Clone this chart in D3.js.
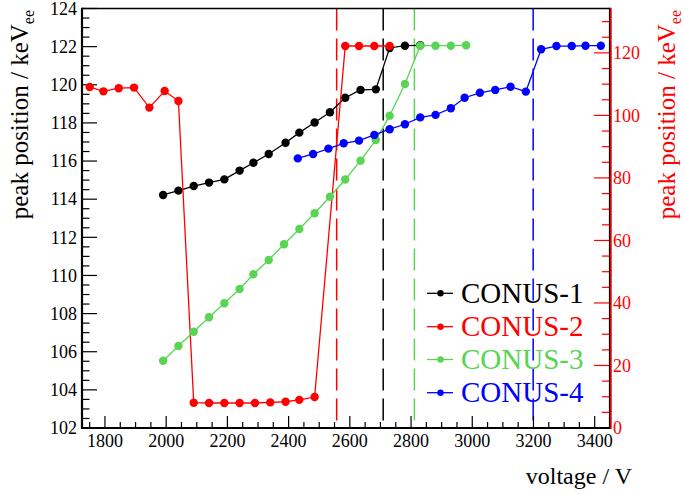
<!DOCTYPE html>
<html><head><meta charset="utf-8">
<script src="https://cdn.jsdelivr.net/npm/d3@7"></script>
<style>body{margin:0;background:#fff}svg{display:block}text{font-family:"Liberation Serif","Times New Roman",serif}</style>
</head><body>
<script>
// ---- data ----
const seriesNames = ["CONUS-1","CONUS-2","CONUS-3","CONUS-4"];
const blackV = [1990,2040,2090,2140,2190,2240,2285,2335,2390,2435,2485,2535,2585,2635,2685,2730,2780,2830];
const blackY = [114.22,114.45,114.69,114.87,115.04,115.50,115.91,116.37,116.96,117.49,118.02,118.56,119.32,119.73,119.76,121.93,122.05,122.07];
// CONUS-2 values are on the right-hand axis
const redV = [1750,1795,1845,1895,1945,1995,2040,2090,2140,2190,2240,2290,2340,2390,2435,2485,2585,2630,2680,2730];
const redY = [109.1,107.7,108.7,108.9,102.5,107.8,104.6,8.1,8.0,8.0,8.0,8.0,8.2,8.4,9.0,9.9,122.2,122.2,122.2,122.2];
const greenV = [1990,2040,2090,2140,2190,2240,2285,2335,2385,2435,2485,2535,2585,2635,2685,2730,2780,2830,2880,2930,2980];
const greenY = [105.53,106.30,107.05,107.81,108.54,109.29,110.06,110.81,111.64,112.44,113.26,114.13,115.03,116.02,117.10,118.38,120.04,122.05,122.05,122.05,122.07];
const blueV = [2430,2480,2530,2580,2630,2680,2730,2780,2830,2880,2930,2975,3025,3075,3125,3175,3225,3275,3325,3370,3420];
const blueY = [116.14,116.37,116.65,116.93,117.07,117.37,117.67,117.93,118.29,118.42,118.77,119.32,119.58,119.73,119.90,119.64,121.86,122.03,122.03,122.05,122.05];
// threshold voltages, one per series (CONUS-1..4)
const thresholdV = [2709, 2557, 2811, 3199];
const xTickLabels = [1800,2000,2200,2400,2600,2800,3000,3200,3400];
const yLeftTickLabels = [102,104,106,108,110,112,114,116,118,120,122,124];
const yRightTickLabels = [0,20,40,60,80,100,120];
const colors = ["#000000","#ff0000","#59d454","#0000ff"];

// ---- layout ----
const W = 685, H = 494;
const L = 82, R = 610, T = 8.5, B = 428;
const svg = d3.select("body").append("svg").attr("width", W).attr("height", H);

const x = d3.scaleLinear().domain([1725, 3450]).range([L, R]);
const yL = d3.scaleLinear().domain([102, 124]).range([B, T]);
const yR = d3.scaleLinear().domain([0, 134.2]).range([B, T]);

// threshold dashed lines
const dashG = svg.append("g");
thresholdV.forEach((v, i) => {
  dashG.append("line").attr("x1", x(v)).attr("x2", x(v)).attr("y1", T).attr("y2", B)
    .attr("stroke", colors[i]).attr("stroke-width", 1.5).attr("stroke-dasharray", "22,8");
});

// axes ticks
function ticksBetween(a, b, step) { const r = []; for (let v = a; v <= b + 1e-9; v += step) r.push(+v.toFixed(6)); return r; }
const axG = svg.append("g");
// bottom
ticksBetween(1750, 3450, 50).forEach(v => {
  const major = Math.abs(v % 200) < 1e-6;
  axG.append("line").attr("x1", x(v)).attr("x2", x(v)).attr("y1", B).attr("y2", B - (major ? 12 : 6)).attr("stroke", "#000").attr("stroke-width", 1.2);
});
xTickLabels.forEach(v => axG.append("text").attr("x", x(v)).attr("y", 447).attr("text-anchor", "middle").attr("font-size", 18).text(v));
// left
ticksBetween(102, 124, 0.5).forEach(v => {
  const major = Math.abs(v % 2) < 1e-6;
  axG.append("line").attr("y1", yL(v)).attr("y2", yL(v)).attr("x1", L).attr("x2", L + (major ? 15 : 7.5)).attr("stroke", "#000").attr("stroke-width", 1.2);
});
yLeftTickLabels.forEach(v => axG.append("text").attr("x", 77).attr("y", yL(v)).attr("dy", "0.35em").attr("text-anchor", "end").attr("font-size", 18).text(v));
// right
ticksBetween(0, 130, 5).forEach(v => {
  const major = Math.abs(v % 20) < 1e-6;
  axG.append("line").attr("y1", yR(v)).attr("y2", yR(v)).attr("x1", R).attr("x2", R - (major ? 16 : 8)).attr("stroke", "#ff0000").attr("stroke-width", 1.2);
});
yRightTickLabels.forEach(v => axG.append("text").attr("x", 613).attr("y", yR(v)).attr("dy", "0.35em").attr("text-anchor", "start").attr("font-size", 18).attr("fill", "#ff0000").text(v));

// frame
axG.append("line").attr("x1", L).attr("x2", R).attr("y1", T).attr("y2", T).attr("stroke", "#000").attr("stroke-width", 1.5);
axG.append("line").attr("x1", L).attr("x2", R).attr("y1", B).attr("y2", B).attr("stroke", "#000").attr("stroke-width", 2.2);
axG.append("line").attr("x1", L).attr("x2", L).attr("y1", T - 0.75).attr("y2", B + 1.1).attr("stroke", "#000").attr("stroke-width", 2.2);
axG.append("line").attr("x1", R - 0.5).attr("x2", R - 0.5).attr("y1", T - 0.75).attr("y2", B + 1.1).attr("stroke", "#000").attr("stroke-width", 1.2);
axG.append("line").attr("x1", R + 0.8).attr("x2", R + 0.8).attr("y1", T - 0.75).attr("y2", B + 1.1).attr("stroke", "#e00000").attr("stroke-width", 1.8);

// series
const series = [
  {v: blackV, y: blackY, s: yL},
  {v: redV, y: redY, s: yR},
  {v: greenV, y: greenY, s: yL},
  {v: blueV, y: blueY, s: yL}
];
const line = d3.line();
series.forEach((d, i) => {
  const pts = d.v.map((v, k) => [x(v), d.s(d.y[k])]);
  const g = svg.append("g");
  g.append("path").attr("d", line(pts)).attr("fill", "none").attr("stroke", colors[i]).attr("stroke-width", 1.3);
  g.selectAll("circle").data(pts).join("circle").attr("cx", p => p[0]).attr("cy", p => p[1]).attr("r", 4.2).attr("fill", colors[i]);
});

// legend
const legY = [293.3, 326.7, 359.5, 392.7];
seriesNames.forEach((n, i) => {
  const g = svg.append("g");
  g.append("line").attr("x1", 427).attr("x2", 453).attr("y1", legY[i]).attr("y2", legY[i]).attr("stroke", colors[i]).attr("stroke-width", 1.3);
  g.append("circle").attr("cx", 440.5).attr("cy", legY[i]).attr("r", 3.2).attr("fill", colors[i]);
  g.append("text").attr("x", 461).attr("y", legY[i] + 9.5).attr("font-size", 29).attr("fill", colors[i]).text(n);
});

// axis titles
const tl = svg.append("text").attr("transform", "translate(28,10) rotate(-90)").attr("text-anchor", "end").attr("font-size", 25);
tl.append("tspan").text("peak position / keV");
tl.append("tspan").attr("font-size", 16).attr("dy", 6).text("ee");
const tr = svg.append("text").attr("transform", "translate(675,10) rotate(-90)").attr("text-anchor", "end").attr("font-size", 25).attr("fill", "#ff0000");
tr.append("tspan").text("peak position / keV");
tr.append("tspan").attr("font-size", 16).attr("dy", 6).text("ee");
svg.append("text").attr("x", 632).attr("y", 484).attr("text-anchor", "end").attr("font-size", 24).text("voltage / V");
</script>
</body></html>
